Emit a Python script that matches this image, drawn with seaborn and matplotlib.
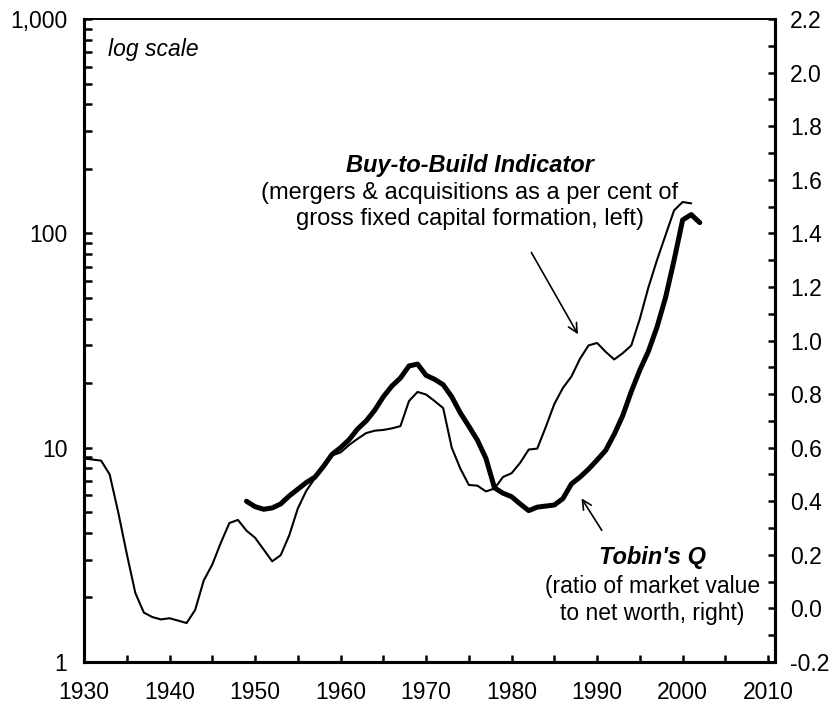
import numpy as np
import matplotlib
matplotlib.use("Agg")
import matplotlib.pyplot as plt
import matplotlib.ticker as mticker
import seaborn as sns

sns.set_style("white")
plt.rcParams['font.family'] = ['Liberation Sans', 'DejaVu Sans']
plt.rcParams['text.color'] = 'black'
plt.rcParams['font.size'] = 16.5

# Buy-to-Build Indicator (M&A as % of gross fixed capital formation, left, log)
btb_years = list(range(1930, 2002))
btb_values = [8.9, 8.8, 8.7, 7.5, 5.0, 3.2, 2.1, 1.7, 1.62, 1.58,
              1.60, 1.56, 1.52, 1.75, 2.4, 2.85, 3.6, 4.45, 4.6, 4.1,
              3.8, 3.35, 2.95, 3.15, 3.9, 5.2, 6.3, 7.2, 8.2, 9.2,
              9.5, 10.3, 11.0, 11.7, 12.0, 12.1, 12.3, 12.6, 16.5, 18.2,
              17.7, 16.5, 15.3, 10.0, 8.0, 6.7, 6.65, 6.25, 6.45, 7.3,
              7.6, 8.5, 9.8, 9.9, 12.5, 16.0, 19.0, 21.5, 26.0, 30.0,
              30.8, 28.0, 25.8, 27.6, 30.0, 40.0, 56.0, 75.0, 98.0, 128.0,
              140.0, 138.0]

# Tobin's Q (ratio of market value to net worth, right)
q_years = list(range(1949, 2003))
q_values = [0.40, 0.38, 0.37, 0.375, 0.39, 0.42, 0.445, 0.47, 0.49, 0.53,
            0.575, 0.60, 0.63, 0.67, 0.70, 0.74, 0.79, 0.83, 0.86, 0.905,
            0.912, 0.87, 0.855, 0.835, 0.79, 0.73, 0.68, 0.628, 0.56, 0.45,
            0.43, 0.417, 0.39, 0.365, 0.378, 0.382, 0.386, 0.41, 0.465, 0.49,
            0.52, 0.554, 0.59, 0.65, 0.72, 0.81, 0.89, 0.96, 1.05, 1.16,
            1.30, 1.45, 1.47, 1.44]

left_ticks = [1, 10, 100, 1000]
left_labels = ['1', '10', '100', '1,000']
x_ticks = list(range(1930, 2011, 10))

fig = plt.figure(figsize=(8.32, 7.09), dpi=100)
ax = fig.add_axes([84 / 832, 1 - 662 / 709, 691 / 832, 643 / 709])
ax2 = ax.twinx()

sns.lineplot(x=btb_years, y=btb_values, ax=ax, color='black', linewidth=1.5)
sns.lineplot(x=q_years, y=q_values, ax=ax2, color='black', linewidth=3.6)

ax.set_yscale('log')
ax.set_ylim(1, 1000)
ax.set_xlim(1930, 2010.8)
ax.yaxis.set_major_locator(mticker.FixedLocator(left_ticks))
ax.yaxis.set_major_formatter(mticker.FixedFormatter(left_labels))
ax.yaxis.set_minor_locator(mticker.LogLocator(base=10, subs=range(2, 10)))
ax.yaxis.set_minor_formatter(mticker.NullFormatter())
ax.xaxis.set_major_locator(mticker.FixedLocator(x_ticks))
ax.xaxis.set_minor_locator(mticker.MultipleLocator(5))

ax2.set_ylim(-0.2, 2.2)
ax2.yaxis.set_major_locator(mticker.MultipleLocator(0.2))
ax2.yaxis.set_minor_locator(mticker.MultipleLocator(0.1))
ax2.yaxis.set_major_formatter(mticker.FuncFormatter(lambda v, p: f"{round(v, 1) + 0.0:.1f}"))

for a in (ax, ax2):
    a.set_xlabel('')
    a.set_ylabel('')
    for side in ['left', 'right', 'bottom']:
        a.spines[side].set_linewidth(2.2)
        a.spines[side].set_color('black')
    a.spines['top'].set_linewidth(1.2)
    a.spines['top'].set_color('black')

ax.tick_params(axis='y', which='both', direction='in', length=5.5, width=1.8,
               pad=12, labelsize=16.5, colors='black', left=True, right=False)
ax.tick_params(axis='x', which='both', direction='in', length=5, width=1.8,
               pad=14, labelsize=16.5, colors='black', bottom=True, top=False)
ax2.tick_params(axis='y', which='both', direction='in', length=5, width=1.8,
                pad=11, labelsize=16.5, colors='black', right=True, left=False)

ax.text(0.035, 0.952, 'log scale', transform=ax.transAxes, style='italic',
        ha='left', va='center', fontsize=16.5)

ax.text(0.5586, 0.7729, 'Buy-to-Build Indicator', transform=ax.transAxes,
        ha='center', va='center', fontsize=17, fontweight='bold', style='italic')
ax.text(0.5586, 0.7090, '(mergers & acquisitions as a per cent of\ngross fixed capital formation, left)',
        transform=ax.transAxes, ha='center', va='center', fontsize=17, linespacing=1.25)
ax.annotate('', xy=(0.7168, 0.5059), xytext=(0.6454, 0.6407),
            xycoords='axes fraction', textcoords='axes fraction',
            arrowprops=dict(arrowstyle='->', color='black', lw=1.2))

ax.text(0.8228, 0.1628, "Tobin's Q", transform=ax.transAxes,
        ha='center', va='center', fontsize=17, fontweight='bold', style='italic')
ax.text(0.8228, 0.0964, '(ratio of market value\nto net worth, right)',
        transform=ax.transAxes, ha='center', va='center', fontsize=16.5, linespacing=1.25)
ax.annotate('', xy=(0.7178, 0.2582), xytext=(0.7515, 0.2011),
            xycoords='axes fraction', textcoords='axes fraction',
            arrowprops=dict(arrowstyle='->', color='black', lw=1.2))

fig.savefig('out.png', dpi=100)
